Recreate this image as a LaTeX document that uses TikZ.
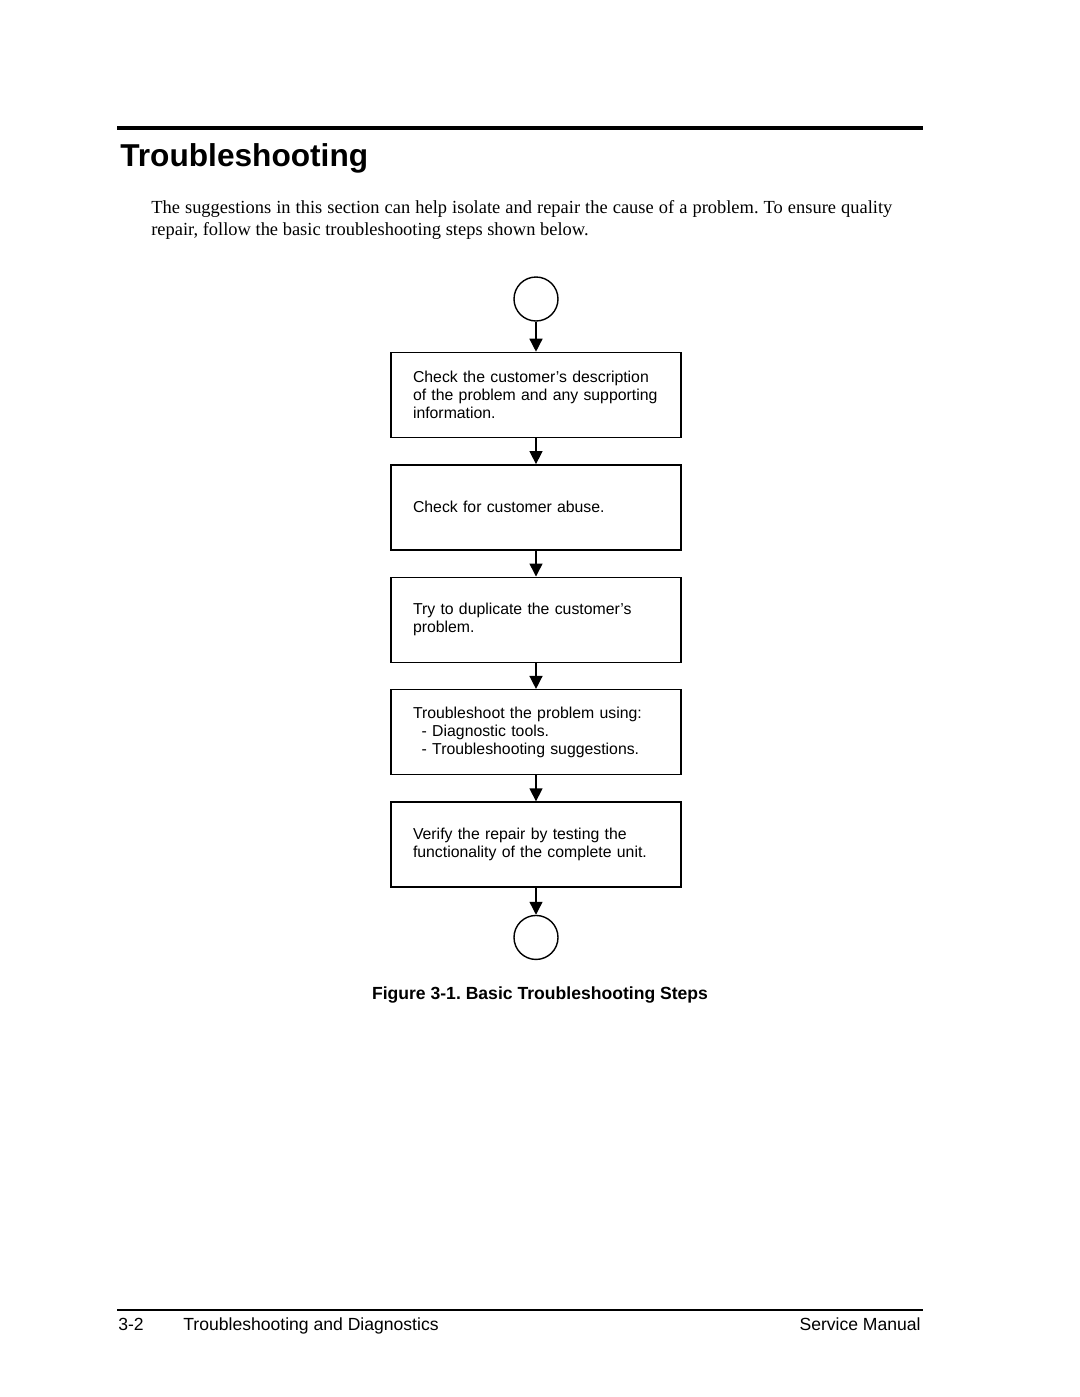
\documentclass[tikz,border=0pt]{standalone}
\usepackage{fontspec}
\setmainfont{Liberation Serif}
\newfontfamily\arialfont{Liberation Sans}
\usetikzlibrary{arrows.meta,positioning}
\frenchspacing
\hyphenpenalty=10000

\begin{document}
\begin{tikzpicture}[
  x=0.2mm,y=-0.2mm,
  node distance=5.2mm,
  stepbox/.style={draw,line width=0.8pt,minimum width=58mm,minimum height=17mm,text width=49.2mm,inner xsep=4.4mm,align=left,font=\arialfont\fontsize{9}{10.2}\selectfont},
  term/.style={draw,circle,line width=0.8pt,minimum size=8.8mm,inner sep=0pt},
  arrow/.style={-{Triangle[length=2.6mm,width=2.6mm]},line width=0.8pt}
]
\useasboundingbox (0,0) rectangle (1080,1397);
% page header
\draw[line width=1.8pt] (117,128) -- (923,128);
\node[anchor=base west,inner sep=0pt,font=\arialfont\bfseries\fontsize{18}{20}\selectfont] (title) at (120,166) {Troubleshooting};
\node[anchor=north west,inner sep=0pt,text width=148.2mm,align=justify,font=\fontsize{10.5}{12.5}\selectfont] (intro) at (151,200)
  {The suggestions in this section can help isolate and repair the cause of a problem. To ensure quality\linebreak repair, follow the basic troubleshooting steps shown below.};
% flow
\node[term] (start) at (536,299) {};
\node[stepbox,below=6mm of start] (describe) {Check the customer’s description\\of the problem and any supporting\\information.};
\node[stepbox,below=of describe] (abuse) {Check for customer abuse.};
\node[stepbox,below=of abuse] (duplicate) {Try to duplicate the customer’s\\problem.};
\node[stepbox,below=of duplicate] (solve) {Troubleshoot the problem using:\\\hspace*{0.55em}- Diagnostic tools.\\\hspace*{0.55em}- Troubleshooting suggestions.};
\node[stepbox,below=of solve] (verify) {Verify the repair by testing the\\functionality of the complete unit.};
\node[term,below=5.4mm of verify] (stop) {};
\foreach \a/\b in {start/describe,describe/abuse,abuse/duplicate,duplicate/solve,solve/verify,verify/stop}
  \draw[arrow] (\a) -- (\b);
\node[anchor=base,inner sep=0pt,font=\arialfont\bfseries\fontsize{10}{12}\selectfont] (caption) at (540,999) {Figure 3-1. Basic Troubleshooting Steps};
% page footer
\draw[line width=0.6pt] (117,1310) -- (923,1310);
\node[anchor=base west,inner sep=0pt,font=\arialfont\fontsize{10}{12}\selectfont] (page) at (118,1330) {3-2};
\node[anchor=base west,inner sep=0pt,font=\arialfont\fontsize{10}{12}\selectfont] (chapter) at (183,1330) {Troubleshooting and Diagnostics};
\node[anchor=base east,inner sep=0pt,font=\arialfont\fontsize{10}{12}\selectfont] (manual) at (921,1330) {Service Manual};
\end{tikzpicture}
\end{document}
